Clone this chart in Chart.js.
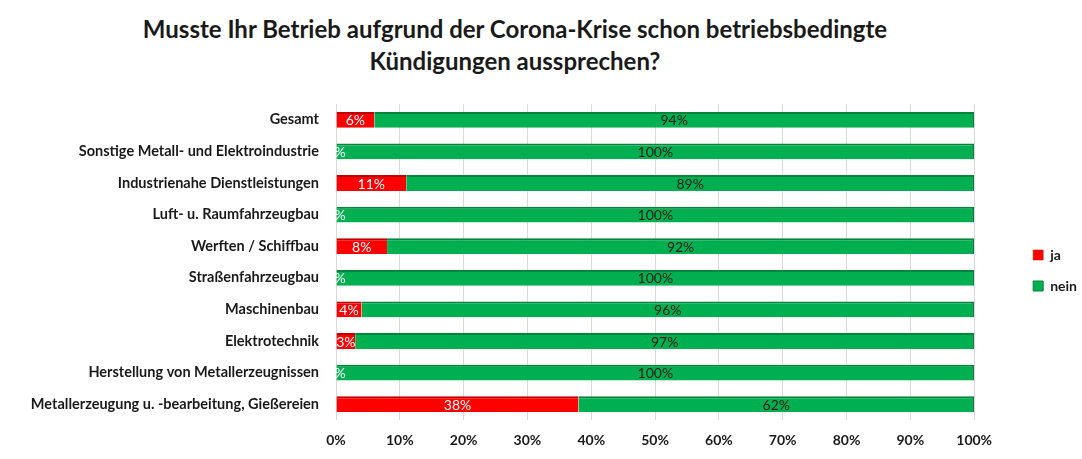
<!DOCTYPE html>
<html>
<head>
<meta charset="utf-8">
<script src="https://cdn.jsdelivr.net/npm/chart.js@4/dist/chart.umd.min.js"></script>
<style>
  body { margin: 0; background: #fff; }
  #wrap { position: relative; width: 1082px; height: 459px; }
  #title {
    position: absolute; top: 13px; left: 0; width: 1030px;
    text-align: center; font: bold 24px Lato, sans-serif; line-height: 32px; color: #1a1a1a;
  }
  canvas { position: absolute; top: 0; left: 0; }
</style>
</head>
<body>
<div id="wrap">
  <div id="title">Musste Ihr Betrieb aufgrund der Corona-Krise schon betriebsbedingte<br>Kündigungen aussprechen?</div>
  <canvas id="kuendigungChart" width="1082" height="459"></canvas>
</div>
<script>
const branchen = [
  "Gesamt",
  "Sonstige Metall- und Elektroindustrie",
  "Industrienahe Dienstleistungen",
  "Luft- u. Raumfahrzeugbau",
  "Werften / Schiffbau",
  "Straßenfahrzeugbau",
  "Maschinenbau",
  "Elektrotechnik",
  "Herstellung von Metallerzeugnissen",
  "Metallerzeugung u. -bearbeitung, Gießereien"
];
const ja = [6, 0, 11, 0, 8, 0, 4, 3, 0, 38];
const nein = [94, 100, 89, 100, 92, 100, 96, 97, 100, 62];

// Prozentwerte mittig in die Balken schreiben
const barLabels = {
  id: "barLabels",
  afterDatasetsDraw(chart) {
    const ctx = chart.ctx;
    ctx.save();
    ctx.font = "14px Lato, sans-serif";
    ctx.textAlign = "center";
    ctx.textBaseline = "middle";
    chart.data.datasets.forEach((ds, i) => {
      ctx.fillStyle = i === 0 ? "#ffffff" : "#1a1a1a";
      chart.getDatasetMeta(i).data.forEach((bar, j) => {
        ctx.fillText(ds.data[j] + "%", (bar.x + bar.base) / 2, bar.y + 1);
      });
    });
    ctx.restore();
  }
};

// Legende etwas weiter nach rechts schieben
const legendShift = {
  id: "legendShift",
  afterLayout(chart) {
    chart.legend.left += 42;
    chart.legend.right += 42;
    chart.legend.top -= 10;
    chart.legend.bottom -= 10;
  }
};

const ctx = document.getElementById("kuendigungChart").getContext("2d");

new Chart(ctx, {
  type: "bar",
  data: {
    labels: branchen,
    datasets: [
      {
        label: "ja",
        data: ja,
        backgroundColor: "#ff0000",
        borderColor: "#c00000",
        borderWidth: { top: 2, bottom: 0, left: 0, right: 0 },
        borderSkipped: false,
        barPercentage: 0.5,
        categoryPercentage: 1.0
      },
      {
        label: "nein",
        data: nein,
        backgroundColor: "#00b050",
        borderColor: "#00853c",
        borderWidth: { top: 2, bottom: 0, left: 0, right: 2 },
        borderSkipped: false,
        barPercentage: 0.5,
        categoryPercentage: 1.0
      }
    ]
  },
  options: {
    indexAxis: "y",
    responsive: false,
    animation: false,
    layout: { padding: { left: 20, right: 37, top: 104, bottom: 2 } },
    plugins: {
      legend: {
        position: "right",
        labels: {
          boxWidth: 10,
          boxHeight: 10,
          padding: 17,
          color: "#1a1a1a",
          font: { family: "Lato", size: 14, weight: "bold" }
        }
      },
      tooltip: { enabled: false }
    },
    scales: {
      x: {
        stacked: true,
        min: 0,
        max: 100,
        afterFit(scale) { scale.height = 37; },
        ticks: {
          stepSize: 10,
          padding: 12,
          color: "#1a1a1a",
          font: { family: "Lato", size: 14, weight: "bold" },
          callback: (v) => v + "%"
        },
        grid: { color: "#d9d9d9", drawTicks: false },
        border: { display: false }
      },
      y: {
        stacked: true,
        afterFit(scale) { scale.width = 316; },
        ticks: {
          padding: 17,
          color: "#1a1a1a",
          font: { family: "Lato", size: 14.5, weight: "bold" }
        },
        grid: { display: false, drawTicks: false },
        border: { display: false }
      }
    }
  },
  plugins: [barLabels, legendShift]
});
</script>
</body>
</html>
